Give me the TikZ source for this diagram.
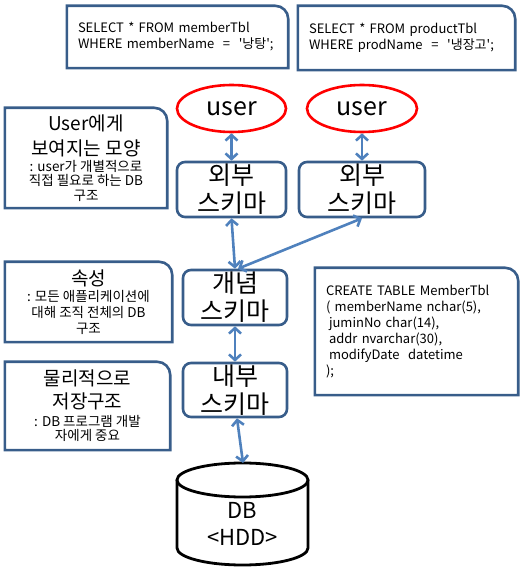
\documentclass[tikz,border=0pt]{standalone}
\usepackage{fontspec}
\setmainfont{Noto Sans CJK KR}
\usetikzlibrary{arrows.meta,shapes.geometric}
\definecolor{framec}{HTML}{385D8A}
\definecolor{arrowc}{HTML}{4F81BD}
\newcommand\tabframe[1]{\draw[frame] (#1.south west) -- (#1.north west) -- ([xshift=-13pt]#1.north east) to[out=0,in=90] ([yshift=-13pt]#1.north east) -- (#1.south east) -- cycle;}
\newcommand\bigf{\fontsize{19}{24}\selectfont}
\newcommand\smallf{\fontsize{13.5}{14.5}\selectfont}
\begin{document}
\begin{tikzpicture}[x=1pt,y=1pt,
  frame/.style={draw=framec, line width=2.6pt},
  sqlbox/.style={inner xsep=11pt, inner ysep=0pt, align=left, font=\fontsize{13}{16}\selectfont},
  note/.style={inner sep=0pt, align=center},
  schema/.style={draw=framec, line width=2.6pt, rounded corners=8pt, inner sep=0pt, align=center, font=\fontsize{25}{28}\selectfont},
  userell/.style={ellipse, draw=red, line width=2.6pt, inner sep=0pt, font=\fontsize{25}{26}\selectfont},
  link/.style={draw=arrowc, line width=2.6pt, {Straight Barb[length=5.5pt,width=12pt]}-{Straight Barb[length=5.5pt,width=12pt]}},
  dbline/.style={draw=black, line width=2.8pt, fill=white}]
\useasboundingbox (0,0) rectangle (528,571);

% SQL boxes
\node[sqlbox, text width=199pt, minimum height=62pt] (sqlA) at (177.5,534)
  {SELECT * FROM memberTbl\\WHERE memberName~~=~~\textquotesingle 낭탕\textquotesingle;};
\node[sqlbox, text width=195pt, minimum height=64pt] (sqlB) at (406.5,533)
  {SELECT * FROM productTbl\\WHERE prodName~~=~~\textquotesingle 냉장고\textquotesingle;};
\tabframe{sqlA}
\tabframe{sqlB}

% left notes
\node[note, minimum width=162pt, minimum height=100pt, font=\smallf] (noteA) at (86,413)
  {\bigf User에게\\[7pt] \bigf 보여지는 모양\\[1pt] \smallf : user가 개별적으로\\ \smallf 직접 필요로 하는 DB\\ \smallf 구조};
\node[note, minimum width=167pt, minimum height=80pt, font=\smallf] (noteB) at (88.5,269)
  {\bigf 속성\\[1pt] \smallf : 모든 애플리케이션에\\[1.5pt] \smallf 대해 조직 전체의 DB\\[1.5pt] \smallf 구조};
\node[note, minimum width=165pt, minimum height=88pt, font=\smallf] (noteC) at (87.5,165)
  {\bigf 물리적으로\\[5pt] \bigf 저장구조\\[3pt] \smallf : DB 프로그램 개발\\ \smallf 자에게 중요};
\tabframe{noteA}
\tabframe{noteB}
\tabframe{noteC}

% CREATE box
\node[sqlbox, text width=181pt, minimum height=127pt] (create) at (416.5,239.5)
  {CREATE TABLE MemberTbl\\( memberName nchar(5),\\\hspace*{3pt}juminNo char(14),\\\hspace*{3pt}addr nvarchar(30),\\\hspace*{3pt}modifyDate~~datetime\\);};
\tabframe{create}

% users
\node[userell, minimum width=109pt, minimum height=47pt] (userA) at (231.5,462.5) {user};
\node[userell, minimum width=110pt, minimum height=47pt] (userB) at (362,462.5) {user};

% schemas
\node[schema, minimum width=109pt, minimum height=55pt] (extA) at (231.5,381.5) {외부\\스키마};
\node[schema, minimum width=126pt, minimum height=55pt] (extB) at (362,381.5) {외부\\스키마};
\node[schema, minimum width=104pt, minimum height=55pt] (concept) at (235,273.5) {개념\\스키마};
\node[schema, minimum width=104pt, minimum height=54pt] (internal) at (235,181) {내부\\스키마};

% DB cylinder
\draw[dbline] (177,91) -- (177,23) arc[start angle=180, end angle=360, x radius=65.5, y radius=17] -- (308,91);
\draw[dbline] (242.5,91) ellipse[x radius=65.5, y radius=17];
\node[note, font=\fontsize{22}{27}\selectfont] (db) at (242.5,47.5) {DB\\<HDD>};
\coordinate (dbtop) at (243,108);

% connectors
\draw[link] (userA.south) -- (extA.north);
\draw[link] (userB.south) -- (extB.north);
\draw[link] (extA.south) -- (concept.north);
\draw[link] (extB.south) -- ([xshift=3pt]concept.north);
\draw[link] ([xshift=2pt]internal.south) -- (dbtop);
\draw[link] (concept.south) -- (internal.north);
\end{tikzpicture}
\end{document}
